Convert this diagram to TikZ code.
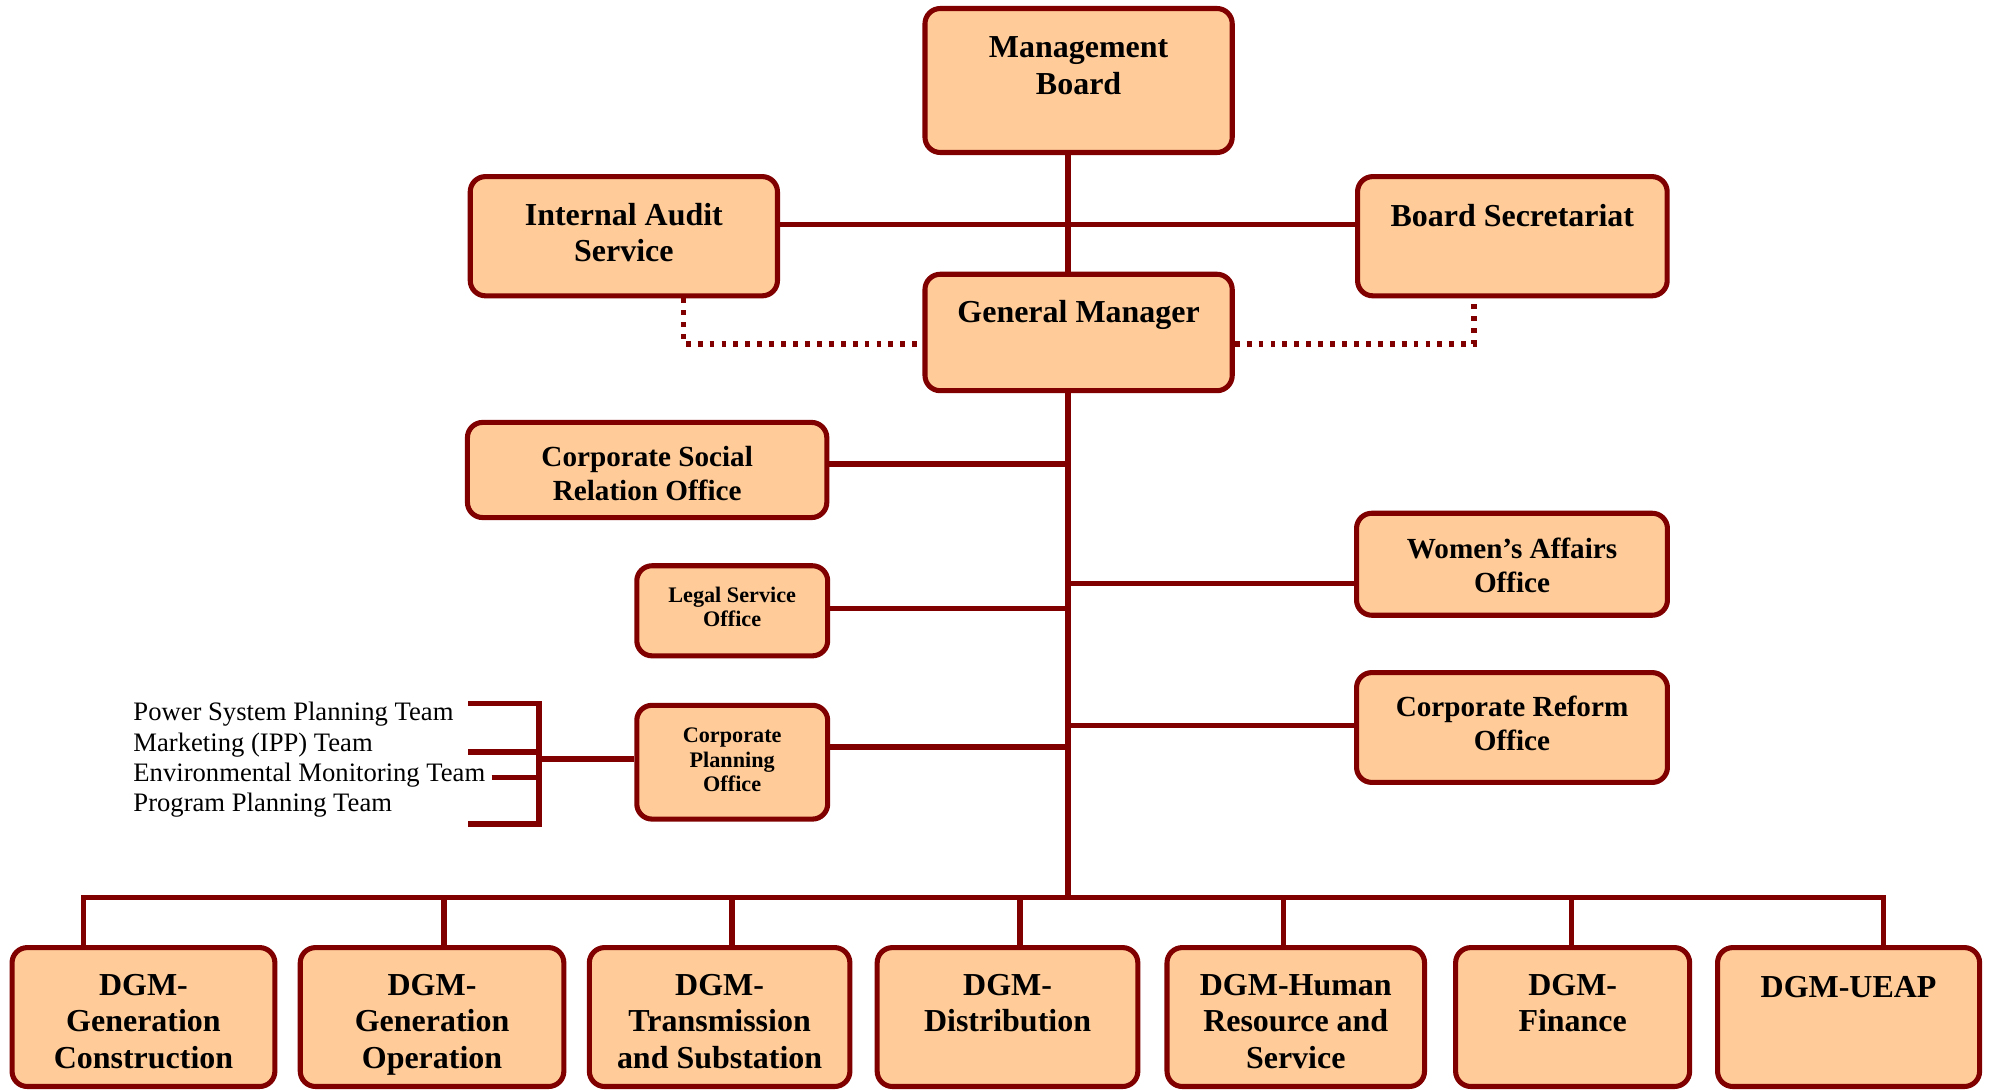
\documentclass[tikz,border=0pt]{standalone}
\usepackage{fontspec}
\setmainfont{Liberation Serif}
\usetikzlibrary{fit}
\definecolor{boxline}{HTML}{800000}
\definecolor{boxfill}{HTML}{FFCC99}
\begin{document}
\begin{tikzpicture}[x=0.5pt,y=-0.5pt,
  box/.style={draw=boxline, fill=boxfill, line width=2pt, rounded corners=6pt, inner sep=0pt},
  conn/.style={draw=boxline, line width=2.2pt},
  dotc/.style={draw=boxline, line width=2pt, dash pattern=on 1.9pt off 2.8pt},
  txtbase/.style={inner sep=0pt, align=center, execute at begin node={\rule{0pt}{0.75em}}},
  bigtxt/.style={txtbase, font=\bfseries\fontsize{12.6}{14.45}\selectfont},
  midtxt/.style={txtbase, font=\bfseries\fontsize{11.5}{13.3}\selectfont},
  smalltxt/.style={txtbase, font=\bfseries\fontsize{8.75}{9.6}\selectfont},
  teamtxt/.style={txtbase, align=left, font=\fontsize{10.5}{11.95}\selectfont}
]
\useasboundingbox (0,0) rectangle (1568,858.5);

% ---- boxes ----
\node[box, fit={(729.2,6.7) (971.4,120.2)}] (mb) {};
\node[box, fit={(370.7,139.2) (612.9,233.2)}] (ia) {};
\node[box, fit={(1070.2,139.2) (1314.3,233.2)}] (bs) {};
\node[box, fit={(729.2,216.2) (971.4,308)}] (gm) {};
\node[box, fit={(368.5,333) (651.8,408)}] (csr) {};
\node[box, fit={(502,446) (652.5,517)}] (leg) {};
\node[box, fit={(502,556) (652.5,645.7)}] (cp) {};
\node[box, fit={(1069.4,404.6) (1314.5,485)}] (wa) {};
\node[box, fit={(1069.4,530.2) (1314.5,616.8)}] (cr) {};
\node[box, fit={(9.5,747) (216.7,856.5)}] (d1) {};
\node[box, fit={(236.7,747) (444.5,856.5)}] (d2) {};
\node[box, fit={(464.6,747) (670,856.5)}] (d3) {};
\node[box, fit={(691.5,747) (897,856.5)}] (d4) {};
\node[box, fit={(920,747) (1123,856.5)}] (d5) {};
\node[box, fit={(1147.5,747) (1332,856.5)}] (d6) {};
\node[box, fit={(1354,747) (1560.6,856.5)}] (d7) {};

% ---- texts ----
\node[bigtxt, anchor=north] (mbt) at (850.3,28.3) {Management\\Board};
\node[bigtxt, anchor=north] (iat) at (491.8,159.6) {Internal Audit\\Service};
\node[bigtxt, anchor=north] (bst) at (1192.2,159.1) {Board Secretariat};
\node[bigtxt, anchor=north] (gmt) at (850.3,235.1) {General Manager};
\node[midtxt, anchor=north] (csrt) at (510.2,351.4) {Corporate Social\\Relation Office};
\node[smalltxt, anchor=north] (legt) at (577.2,462.2) {Legal Service\\Office};
\node[smalltxt, anchor=north] (cpt) at (577.2,573.6) {Corporate\\Planning\\Office};
\node[midtxt, anchor=north] (wat) at (1192,423.6) {Women’s Affairs\\Office};
\node[midtxt, anchor=north] (crt) at (1192,548.5) {Corporate Reform\\Office};
\node[bigtxt, anchor=north] (d1t) at (113.1,767.4) {DGM-\\Generation\\Construction};
\node[bigtxt, anchor=north] (d2t) at (340.6,767.4) {DGM-\\Generation\\Operation};
\node[bigtxt, anchor=north] (d3t) at (567.3,767.4) {DGM-\\Transmission\\and Substation};
\node[bigtxt, anchor=north] (d4t) at (794.3,767.4) {DGM-\\Distribution};
\node[bigtxt, anchor=north] (d5t) at (1021.5,767.4) {DGM-Human\\Resource and\\Service};
\node[bigtxt, anchor=north] (d6t) at (1239.8,767.4) {DGM-\\Finance};
\node[bigtxt, anchor=north] (d7t) at (1457.3,767.4) {DGM-UEAP};
\node[teamtxt, anchor=north west] (teams) at (104.8,553.3) {Power System Planning Team\\Marketing (IPP) Team\\Environmental Monitoring Team\\Program Planning Team};

% ---- coordinates ----
\coordinate (tr) at (842,0);
\coordinate (ylink) at (842,177);
\coordinate (dl) at (539,271.2);
\coordinate (dr) at (1162,271.2);
\coordinate (ycsr) at (842,366);
\coordinate (yleg) at (842,479.6);
\coordinate (ywa) at (842,460);
\coordinate (ycr) at (842,572);
\coordinate (ycp) at (842,589);
\coordinate (busL) at (65.8,707.4);
\coordinate (busR) at (1484.8,707.4);
\coordinate (bk) at (424.7,598.4);
\coordinate (t1) at (369.3,554.5);
\coordinate (t2) at (369.3,592.6);
\coordinate (t3) at (387.6,612.8);
\coordinate (t4) at (369.3,649.8);
\coordinate (x2) at (350,0);
\coordinate (x3) at (577,0);
\coordinate (x4) at (804,0);
\coordinate (x5) at (1011.8,0);
\coordinate (x6) at (1238.9,0);

% ---- connectors ----
\draw[conn] (mb.south -| tr) -- (gm.north -| tr);
\draw[conn] (ia.east |- ylink) -- (bs.west |- ylink);
\draw[dotc] (ia.south -| dl) -- (dl) -- (gm.west |- dl);
\draw[dotc] (gm.east |- dr) -- (dr) -- (bs.south -| dr);
\draw[conn] (gm.south -| tr) -- (tr |- busL);
\draw[conn] (csr.east |- ycsr) -- (ycsr);
\draw[conn] (leg.east |- yleg) -- (yleg);
\draw[conn] (ywa) -- (wa.west |- ywa);
\draw[conn] (ycr) -- (cr.west |- ycr);
\draw[conn] (cp.east |- ycp) -- (ycp);
\draw[conn] (d1.north -| busL) -- (busL) -- (busR) -- (d7.north -| busR);
\draw[conn] (x2 |- busL) -- (d2.north -| x2);
\draw[conn] (x3 |- busL) -- (d3.north -| x3);
\draw[conn] (x4 |- busL) -- (d4.north -| x4);
\draw[conn] (x5 |- busL) -- (d5.north -| x5);
\draw[conn] (x6 |- busL) -- (d6.north -| x6);
\draw[conn] (cp.west |- bk) -- (bk);
\draw[conn] (t1) -- (t1 -| bk) -- (t4 -| bk) -- (t4);
\draw[conn] (t2) -- (t2 -| bk);
\draw[conn] (t3) -- (t3 -| bk);
\end{tikzpicture}
\end{document}
